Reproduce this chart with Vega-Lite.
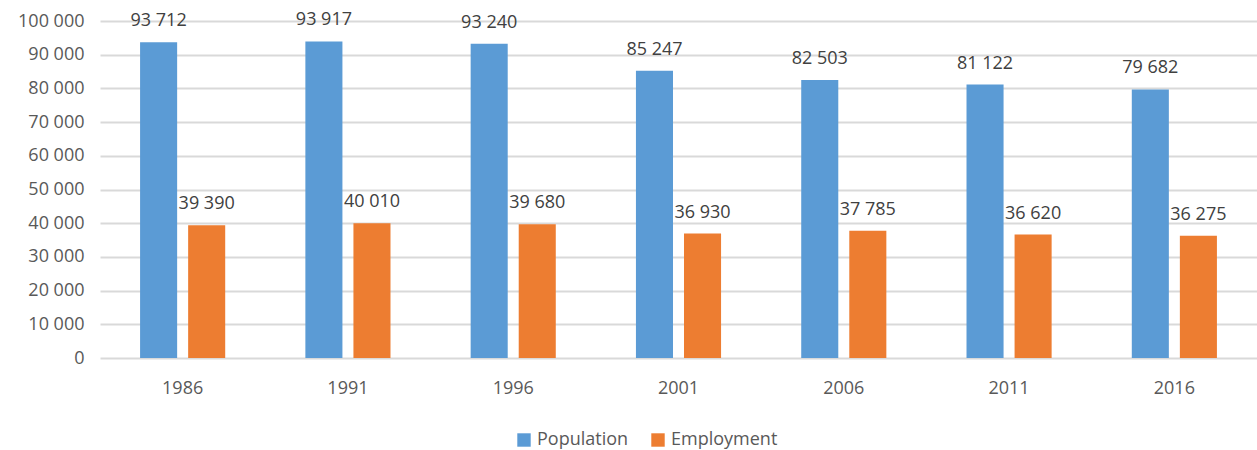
{
  "$schema": "https://vega.github.io/schema/vega-lite/v6.json",
  "width": 1157,
  "height": 337,
  "autosize": {"type": "none"},
  "padding": {"left": 100, "top": 21, "right": 0, "bottom": 92},
  "config": {
    "locale": {"number": {"decimal": ".", "thousands": " ", "grouping": [3], "currency": ["", ""]}},
    "view": {"stroke": null},
    "font": "Open Sans"
  },
  "data": {
    "values": [
      {"year": "1986", "series": "Population", "value": 93712},
      {"year": "1986", "series": "Employment", "value": 39390},
      {"year": "1991", "series": "Population", "value": 93917},
      {"year": "1991", "series": "Employment", "value": 40010},
      {"year": "1996", "series": "Population", "value": 93240},
      {"year": "1996", "series": "Employment", "value": 39680},
      {"year": "2001", "series": "Population", "value": 85247},
      {"year": "2001", "series": "Employment", "value": 36930},
      {"year": "2006", "series": "Population", "value": 82503},
      {"year": "2006", "series": "Employment", "value": 37785},
      {"year": "2011", "series": "Population", "value": 81122},
      {"year": "2011", "series": "Employment", "value": 36620},
      {"year": "2016", "series": "Population", "value": 79682},
      {"year": "2016", "series": "Employment", "value": 36275}
    ]
  },
  "encoding": {
    "x": {
      "field": "year", "type": "nominal",
      "scale": {"paddingInner": 0.485, "paddingOuter": 0.2425},
      "axis": {"title": null, "labelAngle": 0, "domain": false, "ticks": false, "labelFontSize": 18, "labelColor": "#595959", "labelPadding": 21, "grid": false}
    },
    "xOffset": {"field": "series", "type": "nominal", "sort": ["Population", "Employment"], "scale": {"paddingInner": 0.229, "paddingOuter": 0}},
    "y": {
      "field": "value", "type": "quantitative",
      "scale": {"domain": [0, 100000]},
      "axis": {"title": null, "values": [0,10000,20000,30000,40000,50000,60000,70000,80000,90000,100000], "format": ",d", "domain": false, "ticks": false, "labelFontSize": 18, "labelColor": "#595959", "labelPadding": 16, "gridColor": "#d9d9d9", "gridWidth": 2}
    }
  },
  "layer": [
    {
      "mark": {"type": "bar"},
      "encoding": {
        "color": {
          "field": "series", "type": "nominal", "sort": ["Population", "Employment"],
          "scale": {"domain": ["Population", "Employment"], "range": ["#5B9BD5", "#ED7D31"]},
          "legend": {"title": null, "orient": "none", "direction": "horizontal", "legendX": 415, "legendY": 410, "symbolType": "square", "symbolSize": 180, "symbolStrokeWidth": 0, "labelFontSize": 18, "labelColor": "#595959", "columnPadding": 20, "labelOffset": 4}
        }
      }
    },
    {
      "mark": {"type": "text", "baseline": "bottom", "dy": -12, "fontSize": 18, "color": "#404040"},
      "encoding": {
        "text": {"field": "value", "type": "quantitative", "format": ",d"}
      }
    }
  ]
}
